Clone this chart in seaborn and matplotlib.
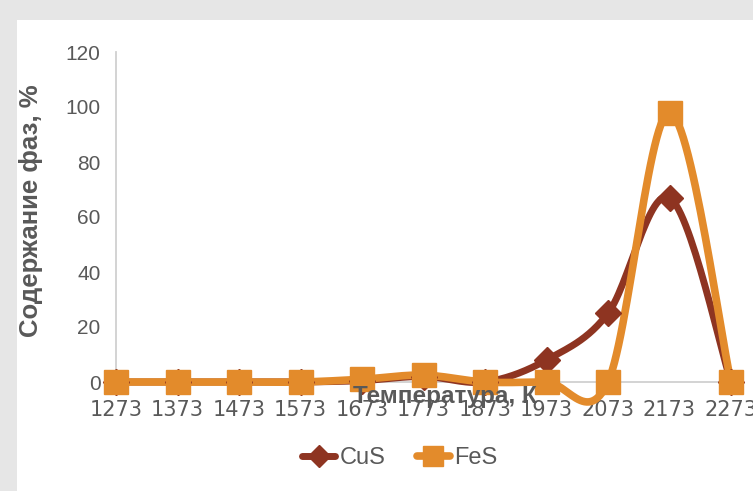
import numpy as np
import matplotlib
matplotlib.use("Agg")
import matplotlib.pyplot as plt
from matplotlib.patches import Rectangle
from matplotlib.lines import Line2D
import seaborn as sns

temps = ["1273", "1373", "1473", "1573", "1673", "1773", "1873", "1973", "2073", "2173", "2273"]
cus = [0, 0, 0, 0, 0.5, 2, 0, 8, 25, 67, 0]
fes = [0, 0, 0, 0, 1, 2.5, 0, 0, 0, 98, 0]

c_cus = "#8e3421"
c_fes = "#e38b2b"
grey_txt = "#595959"


def smooth(y, n=30):
    # excel-like smoothed line (catmull-rom as bezier segments)
    y = np.asarray(y, dtype=float)
    x = np.arange(len(y), dtype=float)
    p = np.column_stack([x, y])
    pad = np.vstack([p[0], p, p[-1]])
    out = []
    t = np.linspace(0, 1, n)[:, None]
    for i in range(len(p) - 1):
        p0, p3 = p[i], p[i + 1]
        c1 = p0 + (pad[i + 2] - pad[i]) / 6
        c2 = p3 - (pad[i + 3] - pad[i + 1]) / 6
        seg = (1 - t) ** 3 * p0 + 3 * (1 - t) ** 2 * t * c1 + 3 * (1 - t) * t ** 2 * c2 + t ** 3 * p3
        out.append(seg if i == 0 else seg[1:])
    out = np.vstack(out)
    return out[:, 0], out[:, 1]


sns.set_theme(style="white")
plt.rcParams['font.family'] = ['Liberation Sans', 'DejaVu Sans']

fig = plt.figure(figsize=(7.53, 4.91), dpi=100)
fig.patch.set_facecolor("#e6e6e6")
fig.patches.append(Rectangle((17 / 753, 0), 1, 1 - 20 / 491, transform=fig.transFigure,
                             facecolor="white", edgecolor="none", zorder=-1))

ax = fig.add_axes([116 / 753, 1 - 382 / 491, (731 - 116) / 753, 330 / 491])
ax.set_facecolor("none")

xi = np.arange(len(temps))
for vals, col, mk, ms, lw in [(cus, c_cus, "D", 13, 5), (fes, c_fes, "s", 17, 5.5)]:
    sx, sy = smooth(vals)
    sns.lineplot(x=sx, y=sy, ax=ax, color=col, lw=lw, sort=False, estimator=None, clip_on=False)
    ax.plot(xi, vals, ls="none", marker=mk, ms=ms, color=col, mec=col, clip_on=False, zorder=5)

ax.set_xlim(0, 10)
ax.set_ylim(0, 120)
ax.set_yticks(range(0, 121, 20))
ax.set_xticks(xi)
ax.set_xticklabels(temps, fontfamily="DejaVu Sans")
ax.tick_params(axis="both", length=0, labelsize=15, colors=grey_txt)
ax.tick_params(axis="x", pad=13)
ax.tick_params(axis="y", pad=11)

for s in ["top", "right"]:
    ax.spines[s].set_visible(False)
for s in ["left", "bottom"]:
    ax.spines[s].set_color("#d0d0d0")
    ax.spines[s].set_linewidth(1.3)
    ax.spines[s].set_zorder(0)

ax.set_ylabel("Содержание фаз, %", fontsize=18.5, fontweight="bold", color=grey_txt)
ax.yaxis.set_label_coords(-0.119, 0.52)
fig.text(445 / 753, 1 - 397 / 491, "Температура, К", fontsize=17.5, fontweight="bold",
         color=grey_txt, ha="center", va="center")

handles = [Line2D([], [], color=c_cus, lw=5, marker="D", ms=11),
           Line2D([], [], color=c_fes, lw=5.5, marker="s", ms=14)]
fig.legend(handles, ["CuS", "FeS"], loc="center", bbox_to_anchor=(400 / 753, 1 - 458 / 491),
           ncol=2, frameon=False, fontsize=17, labelcolor=grey_txt, handlelength=1.4,
           handletextpad=0.2, columnspacing=1.3)

fig.savefig("out.png", dpi=100, facecolor=fig.get_facecolor())
